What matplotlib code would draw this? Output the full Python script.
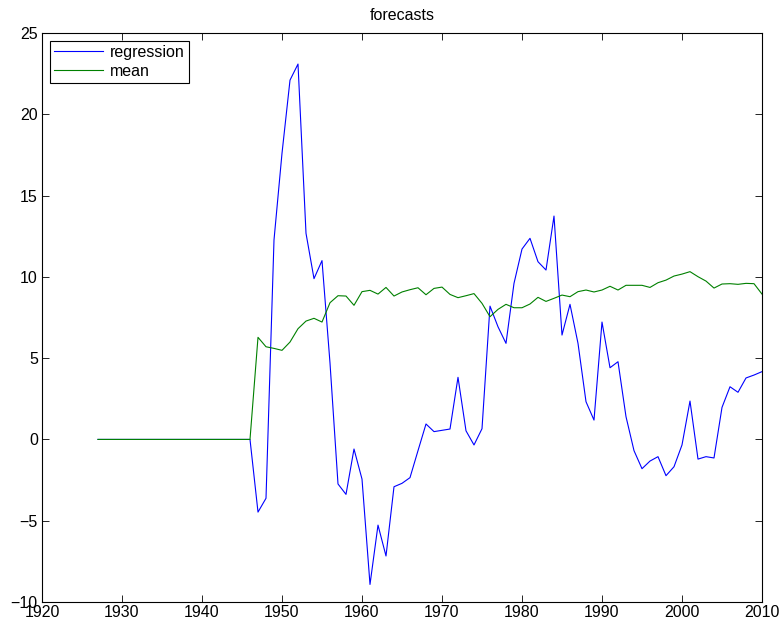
import matplotlib
matplotlib.use("Agg")
import matplotlib.pyplot as plt

plt.rcParams['font.family'] = ['Liberation Sans', 'DejaVu Sans']

years = list(range(1927, 2011))

regression_tail = [
    -4.47, -3.62, 12.27, 17.6, 22.1, 23.09, 12.68, 9.89, 11.0, 4.7,      # 1947-1956
    -2.74, -3.38, -0.59, -2.44, -8.92, -5.27, -7.17, -2.91, -2.70, -2.35,  # 1957-1966
    -0.69, 0.95, 0.48, 0.56, 0.64, 3.82, 0.53, -0.34, 0.66, 8.20,       # 1967-1976
    6.93, 5.91, 9.60, 11.71, 12.37, 10.93, 10.42, 13.74, 6.42, 8.31,    # 1977-1986
    5.91, 2.32, 1.19, 7.22, 4.41, 4.78, 1.40, -0.69, -1.80, -1.33,      # 1987-1996
    -1.06, -2.23, -1.68, -0.34, 2.36, -1.21, -1.06, -1.14, 1.97, 3.24,  # 1997-2006
    2.90, 3.78, 3.96, 4.17,                                              # 2007-2010
]
mean_tail = [
    6.28, 5.70, 5.60, 5.48, 5.99, 6.81, 7.28, 7.45, 7.22, 8.41,         # 1947-1956
    8.84, 8.82, 8.25, 9.09, 9.17, 8.94, 9.35, 8.82, 9.07, 9.21,         # 1957-1966
    9.33, 8.90, 9.29, 9.37, 8.92, 8.72, 8.84, 8.97, 8.37, 7.55,         # 1967-1976
    8.00, 8.31, 8.10, 8.10, 8.33, 8.74, 8.49, 8.68, 8.88, 8.78,         # 1977-1986
    9.09, 9.19, 9.07, 9.19, 9.42, 9.19, 9.48, 9.48, 9.48, 9.35,         # 1987-1996
    9.64, 9.80, 10.05, 10.17, 10.32, 10.01, 9.74, 9.31, 9.56, 9.58,     # 1997-2006
    9.54, 9.60, 9.58, 8.94,                                              # 2007-2010
]
zeros = [0.0] * 20  # 1927-1946
regression = zeros + regression_tail
mean = zeros + mean_tail

xticks = [1920, 1930, 1940, 1950, 1960, 1970, 1980, 1990, 2000, 2010]
yticks = [-10, -5, 0, 5, 10, 15, 20, 25]

FS = 11.5

fig = plt.figure(figsize=(7.81, 6.27), dpi=100)
ax = fig.add_axes([42/781, 1 - 602/627, (762-42)/781, (602-33)/627])

ax.plot(years, regression, color=(0, 0, 1), lw=0.8, label='regression')
ax.plot(years, mean, color=(0, 0.5, 0), lw=0.8, label='mean')

ax.set_xlim(1920, 2010)
ax.set_ylim(-10, 25)
ax.set_xticks(xticks)
ax.set_yticks(yticks)
ax.tick_params(direction='in', length=5, width=0.6, top=True, right=True,
               labelsize=FS, pad=3, colors='black')
ax.tick_params(axis='x', pad=2)
for s in ax.spines.values():
    s.set_linewidth(0.8)
    s.set_color('black')

ax.set_title('forecasts', fontsize=FS, pad=9)

leg = ax.legend(loc='upper left', fontsize=FS, fancybox=False, framealpha=1,
                edgecolor='black', borderpad=0.25, handlelength=3.1,
                labelspacing=0.25, borderaxespad=0.5, handletextpad=0.4)
leg.get_frame().set_linewidth(0.8)

fig.savefig('out.png', dpi=100)
